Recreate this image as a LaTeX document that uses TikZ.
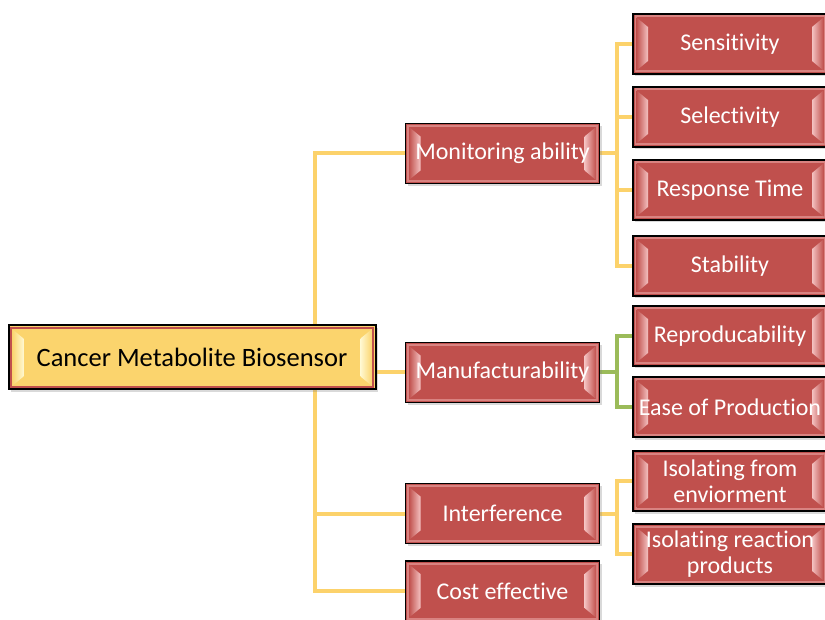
\documentclass[tikz,border=0pt]{standalone}
\usepackage{fontspec}
\setmainfont{Carlito}[RawFeature=-liga]
\usetikzlibrary{positioning, calc, shadows, backgrounds}
\definecolor{boxred}{HTML}{C0504D}
\definecolor{boxpink}{HTML}{F4C2C1}
\definecolor{boxedge}{HTML}{D98381}
\definecolor{rootyellow}{HTML}{FBD46D}
\definecolor{rootlight}{HTML}{FFF8D0}
\definecolor{linkyellow}{HTML}{FCD26B}
\definecolor{linkgreen}{HTML}{9BBB59}
\tikzset{
  bevel/.style n args={3}{path picture={
      \coordinate (pp-sw) at (path picture bounding box.south west);
      \coordinate (pp-ne) at (path picture bounding box.north east);
      \coordinate (pp-nw) at (pp-sw |- pp-ne);
      \coordinate (pp-se) at (pp-ne |- pp-sw);
      \draw[#3, line width=2pt] ($(pp-sw)+(2.5pt,2.5pt)$) rectangle ($(pp-ne)+(-2.5pt,-2.5pt)$);
      \shade[left color=#1, right color=#2] ($(pp-sw)+(3.5pt,3.5pt)$) -- ($(pp-sw)+(15pt,13pt)$)
        -- ($(pp-nw)+(15pt,-13pt)$) -- ($(pp-nw)+(3.5pt,-3.5pt)$) -- cycle;
      \shade[left color=#2, right color=#1] ($(pp-se)+(-3.5pt,3.5pt)$) -- ($(pp-se)+(-15pt,13pt)$)
        -- ($(pp-ne)+(-15pt,-13pt)$) -- ($(pp-ne)+(-3.5pt,-3.5pt)$) -- cycle;
  }},
  branch/.style={draw=black, line width=1.5pt, fill=boxred, text=white, align=center,
    minimum width=194pt, minimum height=60pt, inner sep=0pt,
    font=\fontsize{24}{26}\selectfont,
    drop shadow={shadow xshift=2pt, shadow yshift=-2.5pt, opacity=0.3},
    bevel={boxred}{boxpink}{boxedge}},
  leaf/.style={branch},
  rootbox/.style={branch, fill=rootyellow, text=black, minimum width=367pt, minimum height=64pt,
    line width=2pt, font=\fontsize{26.5}{28}\selectfont, bevel={rootyellow}{rootlight}{boxred}},
  link/.style={line width=4pt, linkyellow},
  greenlink/.style={link, linkgreen}
}
\begin{document}
\begin{tikzpicture}[x=1pt, y=-1pt, node distance=11.5pt]
  \useasboundingbox (0,0) rectangle (825,620);
  \node[rootbox] (root) at (192,357.5) {Cancer Metabolite Biosensor};

  % second level
  \node[branch] (mon) at (502.5,153.5) {Monitoring ability};
  \node[branch] (man) at (502.5,372.5) {Manufacturability};
  \node[branch] (intf) at (502.5,513.5) {Interference};
  \node[branch] (cost) at (502.5,591) {Cost effective};

  % leaves
  \node[leaf] (sens) at (730,44) {Sensitivity};
  \node[leaf, below=of sens] (sel) {Selectivity};
  \node[leaf, below=of sel] (resp) {Response Time};
  \node[leaf, below=14.5pt of resp] (stab) {Stability};
  \node[leaf, below=8.5pt of stab] (repr) {Reproducability};
  \node[leaf, below=9.5pt of repr] (ease) {Ease of Production};
  \node[leaf, below=12.5pt of ease] (isoenv) {Isolating from\\enviorment};
  \node[leaf, below=of isoenv] (isoprod) {Isolating reaction\\products};

  \begin{scope}[on background layer]
    \coordinate (rj) at (315,357);
    \draw[link] (mon.west) -| (rj) |- (cost.west);
    \draw[link] (intf.west) -- (intf.west -| rj);
    \draw[link] (man.west) -- (man.west -| root.east);

    \coordinate (mj) at ($(mon.east)+(17,0)$);
    \draw[link] (sens.west) -| (mj) |- (stab.west);
    \draw[link] (mon.east) -- (mj);
    \draw[link] (sel.west) -- (sel.west -| mj);
    \draw[link] (resp.west) -- (resp.west -| mj);

    \coordinate (fj) at ($(man.east)+(17,0)$);
    \draw[greenlink] (repr.west) -| (fj) |- (ease.west);
    \draw[greenlink] (man.east) -- (fj);

    \coordinate (ij) at ($(intf.east)+(17,0)$);
    \draw[link] (isoenv.west) -| (ij) |- (isoprod.west);
    \draw[link] (intf.east) -- (ij);
  \end{scope}
\end{tikzpicture}
\end{document}
